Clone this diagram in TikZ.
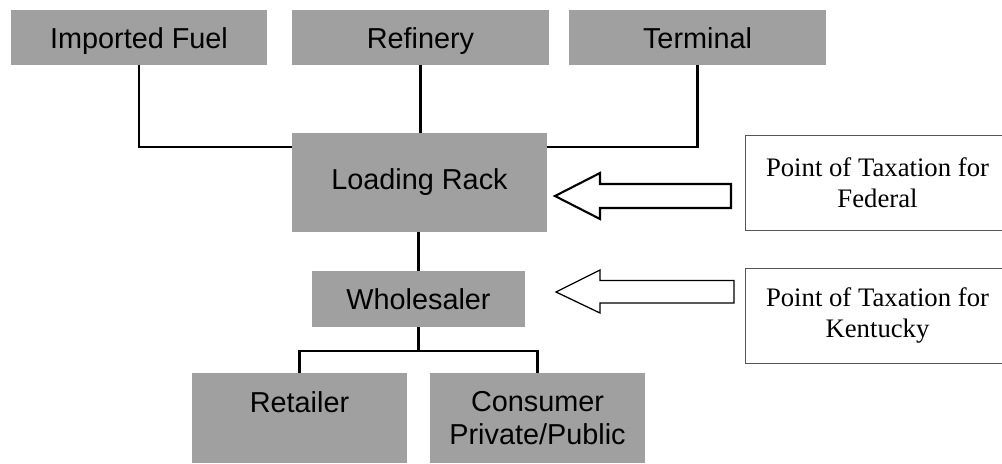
\documentclass[tikz,border=0pt]{standalone}
\usepackage{fontspec}
\setmainfont{Liberation Serif}
\setsansfont{Liberation Sans}
\usetikzlibrary{backgrounds}
\definecolor{boxGray}{RGB}{160,160,160}
\definecolor{frameGray}{RGB}{85,85,85}

\begin{document}
\begin{tikzpicture}[
  x=0.025cm, y=-0.025cm,
  stage/.style={fill=boxGray, align=center, inner sep=2pt, font=\sffamily\fontsize{20.5}{23}\selectfont},
  source/.style={stage, minimum width=6.4cm, minimum height=1.375cm, text height=15pt, text depth=-1pt},
  outlet/.style={stage, minimum width=5.375cm, minimum height=2.25cm},
  taxbox/.style={draw=frameGray, line width=0.6pt, align=center, minimum width=6.625cm, minimum height=2.375cm, font=\rmfamily\fontsize{19}{22}\selectfont},
  link/.style={line width=1.7pt, draw=black},
  pointer/.style={draw=black, fill=white, line width=1.5pt, line join=miter}
]
\useasboundingbox (0,0) rectangle (1002,463);

% supply side
\node[source] (fuel)     at (139,37.5)   {Imported Fuel};
\node[source] (refinery) at (420.5,37.5) {Refinery};
\node[source] (terminal) at (697.5,37.5) {Terminal};

\node[stage, minimum width=6.375cm, minimum height=2.475cm] (rack) at (419.5,182.5) {Loading Rack};
\node[stage, minimum width=5.325cm, minimum height=1.4cm] (wholesaler) at (418.5,299) {Wholesaler};

% end users
\node[outlet] (retailer) at (299.5,418) {Retailer\\~};
\node[outlet] (consumer) at (537.5,418) {Consumer\\Private/Public};

\coordinate (feed)  at (418,147);
\coordinate (split) at (418.5,351);

\begin{scope}[on background layer]
\draw[link] (fuel.south) |- (feed) -| (terminal.south);
\draw[link] (refinery.south) -- (refinery.south |- rack.north);
\draw[link] (rack.south -| wholesaler.north) -- (wholesaler.north);
\draw[link] (wholesaler.south) -- (split);
\draw[link] (retailer.north) |- (split) -| (consumer.north);
\end{scope}

% points of taxation
\node[taxbox] (federal)  at (877.5,182.5) {Point of Taxation for\\Federal};
\node[taxbox] (kentucky) at (877.5,315.5) {Point of Taxation for\\Kentucky};

\draw[pointer] (555,196) -- (600,173) -- (600,184) -- (731,184) -- (731,208) -- (600,208) -- (600,219) -- cycle;
\draw[pointer, line width=0.9pt] (556,292) -- (600,270) -- (600,280.5) -- (734,280.5) -- (734,303) -- (600,303) -- (600,313) -- cycle;

\end{tikzpicture}
\end{document}
